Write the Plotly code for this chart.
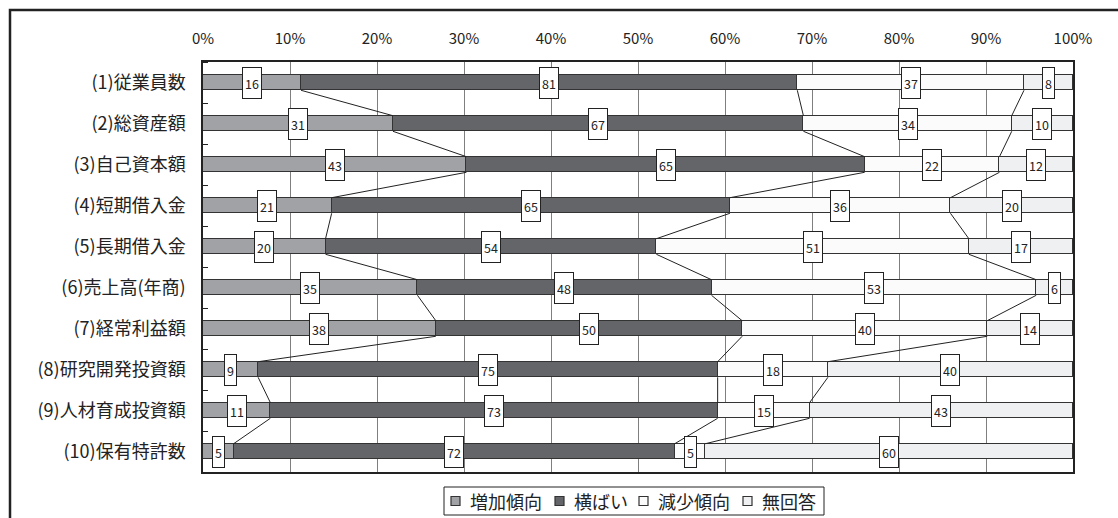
import plotly.graph_objects as go

# Survey items (y categories, top to bottom)
items = [
    "(1)従業員数", "(2)総資産額", "(3)自己資本額", "(4)短期借入金", "(5)長期借入金",
    "(6)売上高(年商)", "(7)経常利益額", "(8)研究開発投資額", "(9)人材育成投資額", "(10)保有特許数",
]

# Response counts per item
increase = [16, 31, 43, 21, 20, 35, 38, 9, 11, 5]
flat = [81, 67, 65, 65, 54, 48, 50, 75, 73, 72]
decrease = [37, 34, 22, 36, 51, 53, 40, 18, 15, 5]
no_answer = [8, 10, 12, 20, 17, 6, 14, 40, 43, 60]

series_names = ["増加傾向", "横ばい", "減少傾向", "無回答"]
series_values = [increase, flat, decrease, no_answer]
series_colors = ["#a1a2a6", "#646569", "#fbfbfb", "#eff0f2"]

x_ticks = list(range(0, 101, 10))
x_tick_text = [f"{t}%" for t in x_ticks]

FONT = "Noto Sans CJK JP, Noto Sans, sans-serif"
BAR_W = 0.38
EDGE = "#333333"

n = len(items)
ypos = list(range(n))
totals = [sum(s[i] for s in series_values) for i in range(n)]
pcts = [[s[i] / totals[i] * 100 for i in range(n)] for s in series_values]

fig = go.Figure()

for name, pct, color in zip(series_names, pcts, series_colors):
    fig.add_trace(go.Bar(
        name=name, orientation="h", x=pct, y=ypos, width=BAR_W,
        marker=dict(color=color, line=dict(color=EDGE, width=1.5)),
        hoverinfo="skip", showlegend=False,
    ))

# Series lines joining the segment boundaries of neighbouring bars
cum = []
for i in range(n):
    run, row = 0.0, []
    for pct in pcts:
        run += pct[i]
        row.append(run)
    cum.append(row)

lx, ly = [], []
for i in range(n - 1):
    for k in range(len(series_values) - 1):
        lx += [cum[i][k], cum[i + 1][k], None]
        ly += [i + BAR_W / 2, i + 1 - BAR_W / 2, None]
fig.add_trace(go.Scatter(
    x=lx, y=ly, mode="lines", line=dict(color="#222222", width=1),
    showlegend=False, hoverinfo="skip",
))

# Count labels in boxes at the centre of each segment
annotations = []
for i in range(n):
    start = 0.0
    for vals, pct in zip(series_values, pcts):
        center = start + pct[i] / 2
        start += pct[i]
        annotations.append(dict(
            x=center, y=i, xref="x", yref="y", text=str(vals[i]), showarrow=False,
            font=dict(family=FONT, size=12.5, color="#222222"),
            bgcolor="white", bordercolor="#222222", borderwidth=1, borderpad=2,
            height=26,
        ))

# Margins and pixel -> paper helpers
L, R, T, B = 203, 45, 62, 46
PW, PH = 1118 - L - R, 518 - T - B


def px_x(px):
    return (px - L) / PW


def px_y(py):
    return (518 - B - py) / PH


shapes = []

# Outer frame (top and left edges visible)
shapes.append(dict(
    type="rect", xref="paper", yref="paper",
    x0=px_x(10), x1=px_x(1140), y0=px_y(540), y1=px_y(10),
    line=dict(color="#222222", width=2.5), fillcolor="rgba(0,0,0,0)", layer="above",
))

# Legend: bordered box with a swatch + label per series
LEG_BOX = (444, 824, 487, 515)
LEG_SWATCH_X = [451, 555, 639, 743]
LEG_MID_Y = 501
SW = 9
shapes.append(dict(
    type="rect", xref="paper", yref="paper",
    x0=px_x(LEG_BOX[0]), x1=px_x(LEG_BOX[1]), y0=px_y(LEG_BOX[3]), y1=px_y(LEG_BOX[2]),
    line=dict(color="#222222", width=1), fillcolor="white", layer="above",
))
for name, color, sx in zip(series_names, series_colors, LEG_SWATCH_X):
    shapes.append(dict(
        type="rect", xref="paper", yref="paper",
        x0=px_x(sx), x1=px_x(sx + SW), y0=px_y(LEG_MID_Y + SW / 2), y1=px_y(LEG_MID_Y - SW / 2),
        line=dict(color=EDGE, width=1.2), fillcolor=color, layer="above",
    ))
    annotations.append(dict(
        x=px_x(sx + SW + 8), y=px_y(LEG_MID_Y), xref="paper", yref="paper",
        xanchor="left", yanchor="middle", text=name, showarrow=False,
        font=dict(family=FONT, size=18, color="#222222"),
    ))

fig.update_layout(
    width=1118, height=518,
    margin=dict(l=L, r=R, t=T, b=B),
    paper_bgcolor="white", plot_bgcolor="white",
    barmode="stack", bargap=0,
    font=dict(family=FONT, color="#222222"),
    annotations=annotations, shapes=shapes,
    showlegend=False,
    xaxis=dict(
        side="top", range=[0, 100], tickmode="array", tickvals=x_ticks, ticktext=x_tick_text,
        showgrid=True, gridcolor="#7f7f7f", gridwidth=1, zeroline=False,
        showline=True, mirror=True, linecolor="#222222", linewidth=1.5,
        ticks="", ticklabelstandoff=10, tickfont=dict(size=15, family=FONT),
        fixedrange=True,
    ),
    yaxis=dict(
        range=[n - 0.5, -0.5], tickmode="array", tickvals=ypos, ticktext=items,
        showgrid=False, zeroline=False,
        showline=True, mirror=True, linecolor="#222222", linewidth=1.5,
        ticks="", ticklabelstandoff=12, tickfont=dict(size=18, family=FONT),
        minor=dict(tickmode="array", tickvals=[i + 0.5 for i in range(-1, n)],
                   ticks="inside", ticklen=5, tickcolor="#222222", tickwidth=1, showgrid=False),
        fixedrange=True,
    ),
)

fig.write_html("out.html")
